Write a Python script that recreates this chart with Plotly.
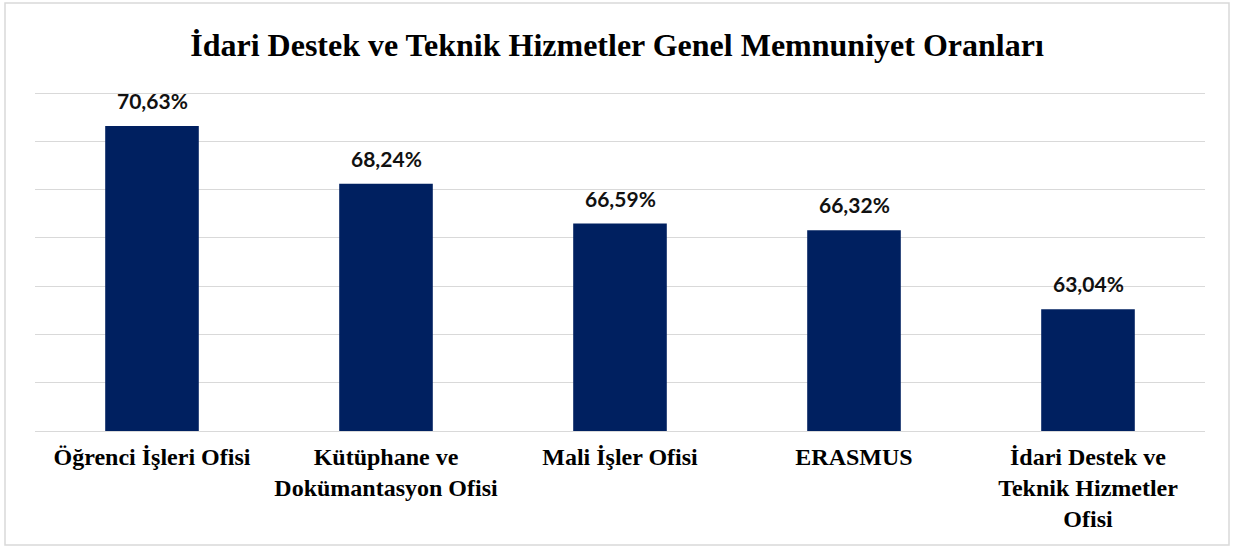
import plotly.graph_objects as go

categories = ["Öğrenci İşleri Ofisi", "Kütüphane ve<br>Dokümantasyon Ofisi", "Mali İşler Ofisi",
              "ERASMUS", "İdari Destek ve<br>Teknik Hizmetler<br>Ofisi"]
values = [70.63, 68.24, 66.59, 66.32, 63.04]
labels = [f"{v:.2f}%".replace(".", ",") for v in values]
title = "İdari Destek ve Teknik Hizmetler Genel Memnuniyet Oranları"

BAR = "#002060"
GRID = "#d9d9d9"

T, B = 91, 115
PH = 546 - T - B

fig = go.Figure()
fig.add_trace(go.Bar(x=categories, y=values, marker=dict(color=BAR, line=dict(width=0)),
                     hoverinfo="skip"))

for c, v, t in zip(categories, values, labels):
    fig.add_annotation(x=c, y=v, text=t, showarrow=False, yanchor="bottom", yshift=11,
                       font=dict(family="Lato", size=21, color="#111111", weight="bold"))

fig.update_layout(
    width=1234, height=546,
    margin=dict(l=35, r=29, t=T, b=B),
    paper_bgcolor="white", plot_bgcolor="white",
    bargap=0.6,
    showlegend=False,
    title=dict(text=title, x=0.5, xref="container", xanchor="center", y=1 - 45 / 546, yanchor="middle",
               font=dict(family="Liberation Serif", size=32, color="black", weight="bold")),
    xaxis=dict(showgrid=False, showline=True, linecolor=GRID, linewidth=1, ticks="",
               tickfont=dict(family="Liberation Serif", size=24, color="black", weight="bold"),
               ticklabelstandoff=4),
    yaxis=dict(range=[58, 72.083], tick0=58, dtick=2, showticklabels=False, showgrid=True, gridcolor=GRID,
               gridwidth=1, zeroline=False, ticks=""),
    shapes=[dict(type="rect", xref="paper", yref="paper",
                 x0=(5 - 35) / 1170, x1=(1229 - 35) / 1170,
                 y0=(431 - 545) / PH, y1=(431 - 3) / PH,
                 line=dict(color=GRID, width=1.5), fillcolor="rgba(0,0,0,0)", layer="below")],
)

fig.write_html("out.html", config={"displayModeBar": False},
               post_script="document.body.style.margin='0';document.body.style.padding='0';")
